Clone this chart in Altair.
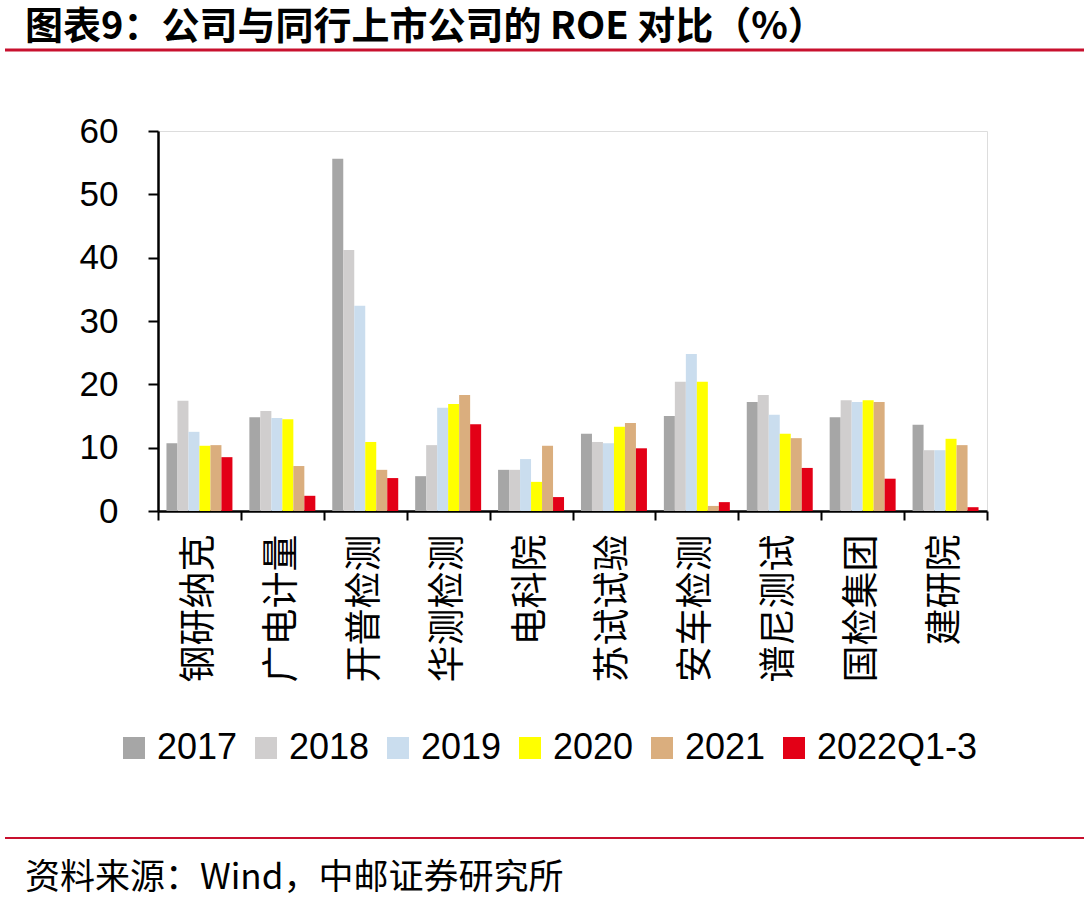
import altair as alt
import pandas as pd

companies = ["钢研纳克", "广电计量", "开普检测", "华测检测", "电科院",
             "苏试试验", "安车检测", "谱尼测试", "国检集团", "建研院"]
years = ["2017", "2018", "2019", "2020", "2021", "2022Q1-3"]
v2017 = [10.7, 14.8, 55.6, 5.5, 6.5, 12.2, 15.0, 17.2, 14.8, 13.6]
v2018 = [17.4, 15.8, 41.2, 10.4, 6.5, 10.9, 20.4, 18.3, 17.5, 9.6]
v2019 = [12.5, 14.7, 32.4, 16.3, 8.2, 10.7, 24.8, 15.2, 17.2, 9.6]
v2020 = [10.3, 14.5, 10.9, 16.9, 4.6, 13.3, 20.4, 12.2, 17.5, 11.4]
v2021 = [10.4, 7.1, 6.5, 18.3, 10.3, 13.9, 0.8, 11.5, 17.2, 10.4]
v2022 = [8.5, 2.4, 5.2, 13.7, 2.2, 9.9, 1.4, 6.8, 5.1, 0.6]
colors = ["#A6A6A6", "#D0CECE", "#CADDEE", "#FFFF00", "#DAAE7E", "#E30016"]

title_text = "图表9：公司与同行上市公司的 ROE 对比（%）"
source_text = "资料来源：Wind，中邮证券研究所"

series = [v2017, v2018, v2019, v2020, v2021, v2022]
rows = []
for y, vals in zip(years, series):
    for c, v in zip(companies, vals):
        rows.append({"company": c, "year": y, "roe": v})
df = pd.DataFrame(rows)

bars = alt.Chart(df).mark_bar().encode(
    x=alt.X("company:N", sort=companies, title=None,
            scale=alt.Scale(paddingInner=0, paddingOuter=0),
            axis=alt.Axis(labelAngle=270, labelFont="Noto Sans CJK SC", labelFontSize=37,
                          labelColor="black", labelPadding=14, tickBand="extent",
                          tickSize=9, tickWidth=2, tickColor="black",
                          domainColor="black", domainWidth=2.5)),
    xOffset=alt.XOffset("year:N", sort=years,
                        scale=alt.Scale(paddingInner=0, paddingOuter=0.77)),
    y=alt.Y("roe:Q", title=None,
            scale=alt.Scale(domain=[0, 60], nice=False),
            axis=alt.Axis(values=[0, 10, 20, 30, 40, 50, 60], grid=False,
                          labelFont="Liberation Sans", labelFontSize=35,
                          labelColor="black", labelPadding=30,
                          tickSize=10, tickWidth=2, tickColor="black",
                          domainColor="black", domainWidth=2.5)),
    color=alt.Color("year:N", sort=years,
                    scale=alt.Scale(domain=years, range=colors),
                    legend=alt.Legend(title=None, orient="none", direction="horizontal",
                                      columns=6, legendX=-42, legendY=599,
                                      symbolType="square", symbolSize=484,
                                      symbolStrokeWidth=0, labelFont="Liberation Sans",
                                      labelFontSize=36, labelColor="black",
                                      labelLimit=400,
                                      labelOffset=5, columnPadding=10)),
)

title = alt.Chart(pd.DataFrame({"t": [title_text]})).mark_text(
    align="left", baseline="middle", font="Noto Sans CJK SC", fontWeight="bold",
    fontSize=38, color="black"
).encode(text="t:N", x=alt.value(-133), y=alt.value(-103))

source = alt.Chart(pd.DataFrame({"t": [source_text]})).mark_text(
    align="left", baseline="middle", font="Noto Sans CJK SC",
    fontSize=35, color="black"
).encode(text="t:N", x=alt.value(-133), y=alt.value(747))

top_line = alt.Chart(pd.DataFrame({"a": [0]})).mark_rule(
    color="#C8102E", strokeWidth=3
).encode(x=alt.value(-153), x2=alt.value(926), y=alt.value(-81))

bottom_line = alt.Chart(pd.DataFrame({"a": [0]})).mark_rule(
    color="#C8102E", strokeWidth=2
).encode(x=alt.value(-153), x2=alt.value(926), y=alt.value(707))

chart = alt.layer(bars, title, source, top_line, bottom_line).properties(
    width=829, height=380,
    autosize=alt.AutoSizeParams(type="none"),
    padding={"left": 158, "top": 131, "right": 97, "bottom": 404},
).configure_view(stroke=None).configure(background="white")

chart.save("out.html", embed_options={"renderer": "svg", "actions": False})
